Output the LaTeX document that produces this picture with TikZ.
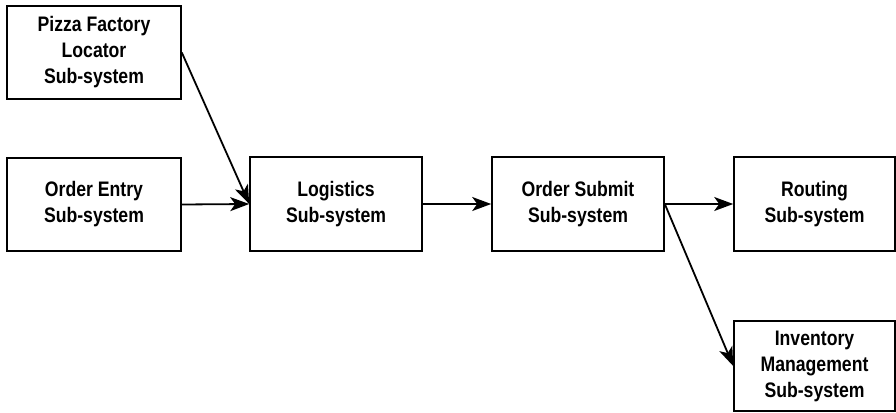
\documentclass[tikz,border=0pt]{standalone}
\usepackage{fontspec}
\setmainfont{Liberation Sans}[FakeStretch=0.84]
\usepackage{tikz}
\usetikzlibrary{positioning, arrows.meta, calc}

\tikzset{
  subsys/.style={draw=black, line width=1.6pt, align=center, inner sep=2pt,
                 font=\fontsize{21}{26}\selectfont\bfseries},
  flow/.style={line width=1.8pt, -{Stealth[length=19pt, width=14pt, inset=5pt]}}
}

\begin{document}
\begin{tikzpicture}[x=1pt, y=-1pt]
    \useasboundingbox (0,0) rectangle (896,412);

    \node[subsys, minimum width=174pt, minimum height=93pt] (locator) at (94,52.5)
      {Pizza Factory\\Locator\\Sub-system};
    \node[subsys, minimum width=174pt, minimum height=93pt] (entry) at (94,204.5)
      {Order Entry\\Sub-system};
    \node[subsys, minimum width=172pt, minimum height=94pt] (logistics) at (336,204)
      {Logistics\\Sub-system};
    \node[subsys, minimum width=172pt, minimum height=94pt] (submit) at (578,204)
      {Order Submit\\Sub-system};
    \node[subsys, minimum width=161pt, minimum height=94pt] (routing) at (814.5,204)
      {Routing\\Sub-system};
    \node[subsys, minimum width=161pt, minimum height=90pt] (inventory) at (814.5,366)
      {Inventory\\Management\\Sub-system};

    % connections
    \draw[flow] (locator.east) -- (logistics.west);
    \draw[flow] (entry.east) -- (logistics.west);
    \draw[flow] (logistics.east) -- (submit.west);
    \draw[flow] (submit.east) -- (routing.west);
    \draw[flow] (submit.east) -- (inventory.west);
\end{tikzpicture}
\end{document}
